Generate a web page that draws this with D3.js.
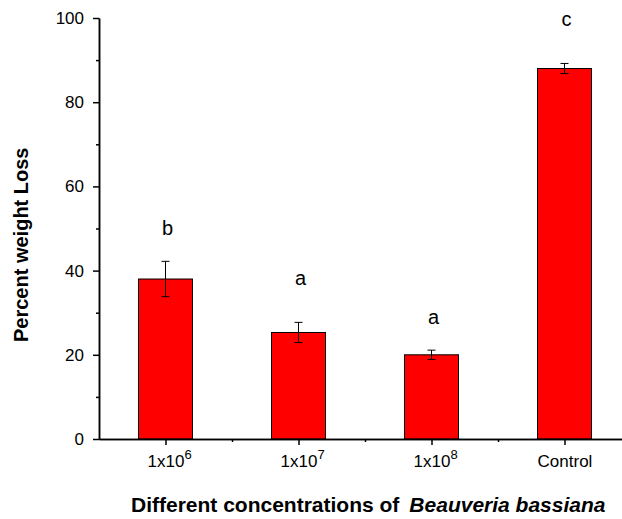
<!DOCTYPE html>
<html>
<head>
<meta charset="utf-8">
<script src="https://cdn.jsdelivr.net/npm/d3@7"></script>
<style>
  body { margin: 0; background: #fff; }
  svg { display: block; font-family: "Liberation Sans", Arial, sans-serif; }
  .axis path, .axis line { stroke: #000; stroke-width: 1.5; }
  .axis text { font-size: 17px; fill: #000; font-family: "Liberation Sans", Arial, sans-serif; }
</style>
</head>
<body>
<div id="chart"></div>
<script>
// data
const bases = ['1x10', '1x10', '1x10', 'Control'];
const exps = ['6', '7', '8', ''];
const means = [38, 25.3, 20, 88];
const errs = [4.2, 2.4, 1.1, 1.2];
const letters = ['b', 'a', 'a', 'c'];
const letterY = [48.5, 36.6, 27.2, 98];
const yMajor = [0, 20, 40, 60, 80, 100];
const yMinor = [10, 30, 50, 70, 90];

const width = 622, height = 519;
const margin = {top: 18, left: 99, bottom: 80};
const plotBottom = height - margin.bottom; // 439

const svg = d3.select('#chart').append('svg')
    .attr('width', width)
    .attr('height', height);

const x = d3.scaleLinear()
    .domain([0.5, 4.5])
    .range([margin.left, margin.left + 4 * 133]);

const y = d3.scaleLinear()
    .domain([0, 100])
    .range([plotBottom, margin.top]);

const idx = means.map((d, i) => i + 1);
const barW = 54;

// bars
svg.selectAll('rect.bar')
    .data(means)
    .enter()
    .append('rect')
    .attr('class', 'bar')
    .attr('x', (d, i) => x(i + 1) - barW / 2)
    .attr('y', d => y(d))
    .attr('width', barW)
    .attr('height', d => y(0) - y(d))
    .attr('fill', '#ff0000')
    .attr('stroke', '#000')
    .attr('stroke-width', 1);

// error bars
const eb = svg.selectAll('g.err')
    .data(means)
    .enter()
    .append('g')
    .attr('class', 'err')
    .attr('stroke', '#000')
    .attr('stroke-width', 1);

eb.append('line')
    .attr('x1', (d, i) => x(i + 1)).attr('x2', (d, i) => x(i + 1))
    .attr('y1', (d, i) => y(d + errs[i])).attr('y2', (d, i) => y(d - errs[i]));
eb.append('line')
    .attr('x1', (d, i) => x(i + 1) - 4).attr('x2', (d, i) => x(i + 1) + 4)
    .attr('y1', (d, i) => y(d + errs[i])).attr('y2', (d, i) => y(d + errs[i]));
eb.append('line')
    .attr('x1', (d, i) => x(i + 1) - 4).attr('x2', (d, i) => x(i + 1) + 4)
    .attr('y1', (d, i) => y(d - errs[i])).attr('y2', (d, i) => y(d - errs[i]));

// significance letters
svg.selectAll('text.letter')
    .data(letters)
    .enter()
    .append('text')
    .attr('class', 'letter')
    .attr('x', (d, i) => x(i + 1) + 2)
    .attr('y', (d, i) => y(letterY[i]))
    .attr('text-anchor', 'middle')
    .style('font-size', '20px')
    .text(d => d);

// y axis
svg.append('g')
    .attr('class', 'axis')
    .attr('transform', `translate(${margin.left},0)`)
    .call(d3.axisLeft(y).tickValues(yMinor).tickSize(3).tickFormat('').tickSizeOuter(0));

svg.append('g')
    .attr('class', 'axis')
    .attr('transform', `translate(${margin.left},0)`)
    .call(d3.axisLeft(y).tickValues(yMajor).tickSize(6).tickPadding(9).tickSizeOuter(0));

// x axis
svg.append('g')
    .attr('class', 'axis')
    .attr('transform', `translate(0,${plotBottom})`)
    .call(d3.axisBottom(x).tickValues([1.5, 2.5, 3.5]).tickSize(3).tickFormat('').tickSizeOuter(0));

const xAxisG = svg.append('g')
    .attr('class', 'axis')
    .attr('transform', `translate(0,${plotBottom})`)
    .call(d3.axisBottom(x).tickValues(idx).tickSize(6).tickPadding(10).tickSizeOuter(0).tickFormat(''));

xAxisG.selectAll('.tick text').each(function(d, i) {
    const t = d3.select(this).text(null).attr('text-anchor', 'start').attr('dy', null).attr('y', 28);
    const b = t.append('tspan').text(bases[i]);
    const bw = b.node().getComputedTextLength();
    t.attr('x', -bw / 2);
    if (exps[i]) {
        t.append('tspan').attr('dy', -8).style('font-size', '13px').text(exps[i]);
    }
});

// axis titles
svg.append('text')
    .attr('transform', `translate(28,342) rotate(-90)`)
    .attr('text-anchor', 'start')
    .style('font-size', '20px')
    .style('font-weight', 'bold')
    .text('Percent weight Loss');

const xt = svg.append('text')
    .attr('x', 131)
    .attr('y', 512)
    .attr('text-anchor', 'start')
    .style('font-size', '21px')
    .style('font-weight', 'bold');
xt.append('tspan').text('Different concentrations of');
xt.append('tspan').attr('dx', 10).style('font-style', 'italic').text('Beauveria bassiana');
</script>
</body>
</html>
